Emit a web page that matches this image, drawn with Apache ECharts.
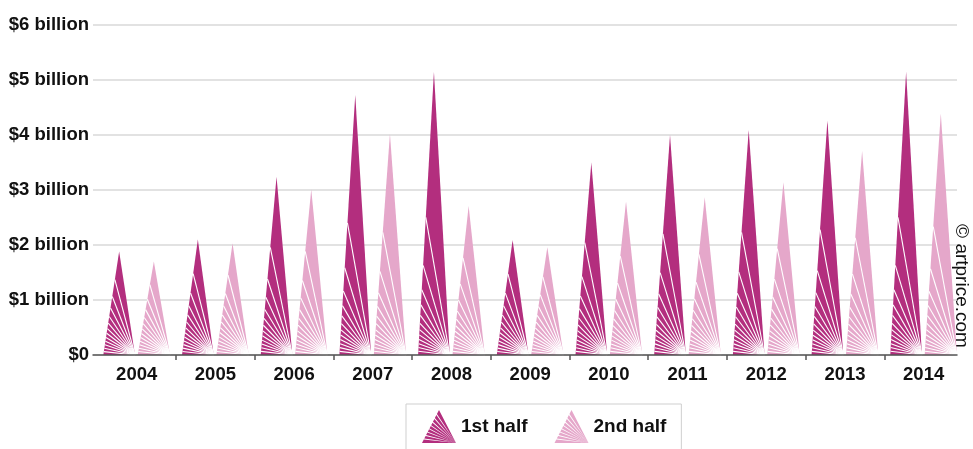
<!DOCTYPE html>
<html>
<head>
<meta charset="utf-8">
<script src="https://cdn.jsdelivr.net/npm/echarts@6/dist/echarts.min.js"></script>
<style>
html,body{margin:0;padding:0;background:#fff;}
#chart{width:973px;height:449px;}
</style>
</head>
<body>
<div id="chart"></div>
<script>
// ---- data (values in US$ billion) ----
const years = ['2004','2005','2006','2007','2008','2009','2010','2011','2012','2013','2014'];
const firstHalf  = [1.88, 2.10, 3.24, 4.73, 5.15, 2.09, 3.50, 4.00, 4.09, 4.27, 5.15];
const secondHalf = [1.70, 2.03, 3.01, 4.02, 2.71, 1.96, 2.79, 2.87, 3.14, 3.71, 4.39];
const seriesNames = ['1st half', '2nd half'];
const yTickLabels = ['$0', '$1 billion', '$2 billion', '$3 billion', '$4 billion', '$5 billion', '$6 billion'];
const credit = '© artprice.com';

// ---- styles ----
const DARK = '#b32e7e';
const LIGHT = '#e5a7ca';
const FONT = "'Liberation Sans', Arial, sans-serif";
const TEXT = '#111';
// triangle base position inside a category band (fractions of band width)
const OFFSETS = [[-0.424, -0.022], [0.013, 0.423]];
const RAYS = 12;

function renderFan(side, color) {
  return function (params, api) {
    const idx = api.value(0), val = api.value(1);
    const top = api.coord([idx, val]);
    const base = api.coord([idx, 0]);
    const bw = api.size([1, 0])[0];
    const c = base[0];
    const l = c + bw * OFFSETS[side][0];
    const r = c + bw * OFFSETS[side][1];
    const y0 = base[1];
    const hw = (r - l) / 2;
    const h = y0 - top[1];
    const children = [{
      type: 'polygon',
      shape: { points: [[l, y0], [l + hw, top[1]], [r, y0]] },
      style: { fill: color }
    }];
    const A = Math.atan2(h, hw);
    for (let k = 1; k <= RAYS; k++) {
      const th = k * A / (RAYS + 1);
      const t = (r - l) / (h / Math.tan(th) + hw);
      children.push({
        type: 'line',
        shape: { x1: r, y1: y0, x2: l + hw * t, y2: y0 - h * t },
        style: { stroke: '#fff', lineWidth: 1.1 }
      });
    }
    return { type: 'group', children: children };
  };
}

function fanIcon(n) {
  const W = 34, H = 33, hw = W / 2;
  const A = Math.atan2(H, hw);
  const g = 0.016;
  const pt = th => { const t = W / (H / Math.tan(th) + hw); return [hw * t, H - H * t]; };
  let d = '';
  for (let k = 0; k <= n; k++) {
    const a0 = k === 0 ? 0 : k * A / (n + 1) + g;
    const a1 = k === n ? A : (k + 1) * A / (n + 1) - g;
    const p0 = k === 0 ? [0, H] : pt(a0);
    const p1 = k === n ? [hw, 0] : pt(a1);
    d += 'M' + W + ' ' + H + 'L' + p0[0].toFixed(2) + ' ' + p0[1].toFixed(2) +
         'L' + p1[0].toFixed(2) + ' ' + p1[1].toFixed(2) + 'Z';
  }
  return 'path://' + d;
}

const chart = echarts.init(document.getElementById('chart'), null, { renderer: 'canvas' });

const GRID_TOP = 25, GRID_BOTTOM = 94;
// category band geometry of grid 1, expressed in grid 0 value units
const g1Left = 97.35, g1Right = 963;
const band = (g1Right - g1Left) / years.length;
const g0Left = 93, g0Right = 957;

chart.setOption({
  animation: false,
  backgroundColor: '#fff',
  grid: [
    { left: g0Left, right: 973 - g0Right, top: GRID_TOP, bottom: GRID_BOTTOM },
    { left: g1Left, right: 973 - g1Right, top: GRID_TOP, bottom: GRID_BOTTOM }
  ],
  xAxis: [
    {
      gridIndex: 0, type: 'value', z: 5,
      min: (g0Left - g1Left) / band, max: (g0Right - g1Left) / band,
      axisLine: { show: true, lineStyle: { color: '#555', width: 1.5 } },
      axisTick: { show: true, length: 5, lineStyle: { color: '#555', width: 1.5 },
                  customValues: years.slice(1).map((y, i) => i + 1) },
      axisLabel: { show: false },
      splitLine: { show: false }
    },
    {
      gridIndex: 1, type: 'category', data: years,
      axisLine: { show: false }, axisTick: { show: false },
      axisLabel: { margin: 10, fontFamily: FONT, fontWeight: 'bold', fontSize: 18.5, color: TEXT },
      splitLine: { show: false }
    }
  ],
  yAxis: [
    {
      gridIndex: 0, type: 'value', min: 0, max: 6, interval: 1,
      axisLine: { show: false }, axisTick: { show: false },
      axisLabel: { margin: 4, fontFamily: FONT, fontWeight: 'bold', fontSize: 18.5, color: TEXT,
                   formatter: v => yTickLabels[Math.round(v)] },
      splitLine: { lineStyle: { color: '#d8d8d8', width: 1.5 } }
    },
    {
      gridIndex: 1, type: 'value', min: 0, max: 6, interval: 1,
      axisLine: { show: false }, axisTick: { show: false },
      axisLabel: { show: false }, splitLine: { show: false }
    }
  ],
  legend: {
    left: 406, top: 404,
    padding: [6, 15, 12, 16],
    itemGap: 27, itemWidth: 34, itemHeight: 33,
    borderColor: '#cfcfcf', borderWidth: 1,
    selectedMode: false,
    textStyle: { fontFamily: FONT, fontWeight: 'bold', fontSize: 19, color: TEXT },
    data: [
      { name: seriesNames[0], icon: fanIcon(8) },
      { name: seriesNames[1], icon: fanIcon(8) }
    ]
  },
  graphic: [{
    type: 'text', x: 961, y: 286, rotation: -Math.PI / 2,
    style: { text: credit, fontFamily: FONT, fontSize: 19,
             fill: TEXT, align: 'center', verticalAlign: 'middle' }
  }],
  series: [
    {
      name: seriesNames[0], type: 'custom', xAxisIndex: 1, yAxisIndex: 1,
      itemStyle: { color: DARK },
      renderItem: renderFan(0, DARK),
      encode: { x: 0, y: 1 },
      data: years.map((y, i) => [i, firstHalf[i]])
    },
    {
      name: seriesNames[1], type: 'custom', xAxisIndex: 1, yAxisIndex: 1,
      itemStyle: { color: LIGHT },
      renderItem: renderFan(1, LIGHT),
      encode: { x: 0, y: 1 },
      data: years.map((y, i) => [i, secondHalf[i]])
    }
  ]
});
</script>
</body>
</html>
